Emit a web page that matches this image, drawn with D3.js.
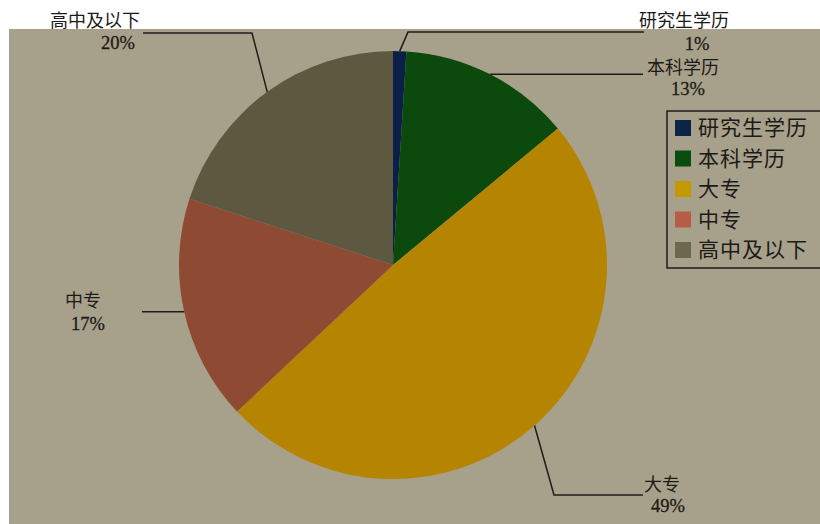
<!DOCTYPE html>
<html>
<head>
<meta charset="utf-8">
<script src="https://cdn.jsdelivr.net/npm/d3@7"></script>
<style>
  html, body { margin: 0; padding: 0; background: #fff; }
  svg { display: block; }
</style>
</head>
<body>
<svg id="chart" width="820" height="524"></svg>
<script>
// DATA
const categories = ["研究生学历", "本科学历", "大专", "中专", "高中及以下"];
const shares = [1, 13, 49, 17, 20];          // percent
const sliceColors = ["#0b2046", "#0b4a0c", "#b58400", "#8e4a33", "#5e5841"];
const legendColors = ["#0d2449", "#0a4c10", "#c39800", "#b55d47", "#6c6850"];

// label layout: elbow + end of leader, label anchor (pixels)
const labelLayout = [
  { elbow: [408, 32], end: [644, 32], tx: 684, ty: 27, px: 697, py: 50 },
  { elbow: null,      end: [643, 78], tx: 683, ty: 74, px: 688, py: 95 },
  { elbow: [554, 495], end: [643, 495], tx: 662, ty: 491, px: 668, py: 512 },
  { elbow: null,      end: [142, 312], tx: 83, ty: 307, px: 88, py: 330 },
  { elbow: [252, 33], end: [143, 33], tx: 95, ty: 27, px: 118, py: 49 }
];

const svg = d3.select("#chart");
const cx = 393, cy = 265, radius = 214;

// plot background
svg.append("rect")
  .attr("x", 9).attr("y", 29)
  .attr("width", 811).attr("height", 495)
  .attr("fill", "#a7a08b");

const pie = d3.pie().sort(null).value(d => d);
const arcs = pie(shares);
const arc = d3.arc().innerRadius(0).outerRadius(radius);

const g = svg.append("g").attr("transform", `translate(${cx},${cy})`);
g.selectAll("path.slice")
  .data(arcs)
  .join("path")
  .attr("class", "slice")
  .attr("d", arc)
  .attr("fill", (d, i) => sliceColors[i]);

// leader lines
const edgePoint = d => {
  const a = (d.startAngle + d.endAngle) / 2;
  return [cx + radius * Math.sin(a), cy - radius * Math.cos(a)];
};

arcs.forEach((d, i) => {
  const L = labelLayout[i];
  const pts = [edgePoint(d)];
  if (L.elbow) pts.push(L.elbow, L.end);
  else pts.push([L.end[0], pts[0][1]]);
  svg.append("path")
    .attr("d", d3.line()(pts))
    .attr("fill", "none")
    .attr("stroke", "#1e1c18")
    .attr("stroke-width", 1.5);
});

const cjk = "'Noto Sans CJK SC', 'Noto Sans', sans-serif";
const serif = "'Liberation Serif', 'DejaVu Serif', serif";

const labels = svg.append("g");
arcs.forEach((d, i) => {
  const L = labelLayout[i];
  labels.append("text")
    .attr("x", L.tx).attr("y", L.ty)
    .attr("text-anchor", "middle")
    .attr("font-family", cjk)
    .attr("font-size", 18)
    .attr("fill", "#1c1a16")
    .text(categories[i]);
  labels.append("text")
    .attr("x", L.px).attr("y", L.py)
    .attr("text-anchor", "middle")
    .attr("font-family", serif)
    .attr("font-size", 18.5)
    .attr("fill", "#1c1a16")
    .attr("stroke", "#1c1a16")
    .attr("stroke-width", 0.3)
    .text(shares[i] + "%");
});

// legend
const legend = svg.append("g");
legend.append("rect")
  .attr("x", 667).attr("y", 111)
  .attr("width", 170).attr("height", 157)
  .attr("fill", "none")
  .attr("stroke", "#1e1c18")
  .attr("stroke-width", 1.5);

const item = legend.selectAll("g.item")
  .data(categories)
  .join("g")
  .attr("class", "item")
  .attr("transform", (d, i) => `translate(675, ${128 + i * 30.5})`);

item.append("rect")
  .attr("x", 0).attr("y", -8)
  .attr("width", 16).attr("height", 16)
  .attr("fill", (d, i) => legendColors[i]);

item.append("text")
  .attr("x", 23).attr("y", 7)
  .attr("font-family", cjk)
  .attr("font-size", 21)
  .attr("letter-spacing", 1)
  .attr("fill", "#1c1a16")
  .text(d => d);
</script>
</body>
</html>
